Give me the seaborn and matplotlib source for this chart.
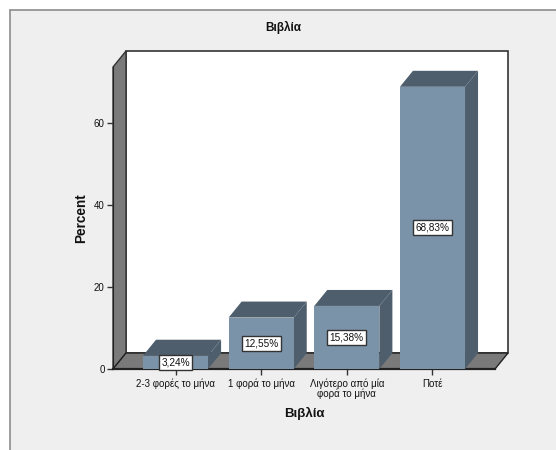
import matplotlib
matplotlib.use('Agg')
import pandas as pd
import seaborn as sns
import matplotlib.pyplot as plt
from matplotlib.patches import Polygon, Rectangle

categories = ['2-3 φορές το μήνα', '1 φορά το μήνα', 'Λιγότερο από μία\nφορά το μήνα', 'Ποτέ']
percents = [3.24, 12.55, 15.38, 68.83]
y_ticks = [0, 20, 40, 60]
title = 'Βιβλία'

W, H = 556, 450
BAR = '#7b93a9'
DARK = '#4e5e6c'
WALL = '#7a7a7a'
PANEL = '#efefef'
# depth of the fake 3d box, in data units
DX, DY = 0.152, 3.9
XMIN, XMAX, YMAX = -0.73, 3.73, 73.66


def fx(px):
    return px / W


def fy(px):
    return 1 - px / H


sns.set_style('white')
plt.rcParams['font.family'] = ['Liberation Sans', 'DejaVu Sans']

fig = plt.figure(figsize=(W / 100, H / 100), dpi=100, facecolor='white')
# panel runs off the right and bottom edges of the image
fig.patches.append(Rectangle((fx(10), -0.1), 1.1, fy(10) + 0.1, transform=fig.transFigure,
                             facecolor=PANEL, edgecolor='#8c8c8c', linewidth=1.2, zorder=-1))
ax = fig.add_axes([fx(113), fy(369), fx(495 - 113), fy(67) - fy(369)])
ax.patch.set_alpha(0)

df = pd.DataFrame({'cat': categories, 'pct': percents})
sns.barplot(data=df, x='cat', y='pct', color=BAR, saturation=1, width=0.76, ax=ax, zorder=5, linewidth=0)
ax.set_xlim(XMIN, XMAX)
ax.set_ylim(0, YMAX)

# top and side faces of each bar
for bar in list(ax.patches):
    x0, x1, top = bar.get_x(), bar.get_x() + bar.get_width(), bar.get_height()
    ax.add_patch(Polygon([(x0, top), (x1, top), (x1 + DX, top + DY), (x0 + DX, top + DY)],
                         facecolor=DARK, edgecolor='none', clip_on=False, zorder=4))
    ax.add_patch(Polygon([(x1, 0), (x1, top), (x1 + DX, top + DY), (x1 + DX, DY)],
                         facecolor=DARK, edgecolor='none', clip_on=False, zorder=4))

# back wall, left wall, floor
ax.add_patch(Polygon([(XMIN + DX, DY), (XMIN + DX, YMAX + DY), (XMAX + DX, YMAX + DY), (XMAX + DX, DY)],
                     facecolor='white', edgecolor='#333333', linewidth=1.2, clip_on=False, zorder=1))
ax.add_patch(Polygon([(XMIN, 0), (XMIN, YMAX), (XMIN + DX, YMAX + DY), (XMIN + DX, DY)],
                     facecolor=WALL, edgecolor='#333333', linewidth=1, clip_on=False, zorder=2))
ax.add_patch(Polygon([(XMIN, 0), (XMAX, 0), (XMAX + DX, DY), (XMIN + DX, DY)],
                     facecolor=WALL, edgecolor='#222222', linewidth=1, clip_on=False, zorder=2))

for i, v in enumerate(percents):
    ax.text(i, v / 2, f'{v:.2f}%'.replace('.', ','), ha='center', va='center', fontsize=7.2,
            color='#111111', zorder=7,
            bbox=dict(boxstyle='square,pad=0.25', facecolor='white', edgecolor='#333333', linewidth=1))

for side in ['top', 'right']:
    ax.spines[side].set_visible(False)
ax.spines['left'].set_color('#222222')
ax.spines['bottom'].set_color('#222222')
ax.spines['bottom'].set_linewidth(1.6)
ax.spines['bottom'].set_zorder(3)
ax.set_yticks(y_ticks)
ax.tick_params(axis='both', left=True, bottom=True, length=4.5, width=1, color='#333333',
               labelsize=7.05, pad=1.5, labelcolor='#111111')
ax.tick_params(axis='x', pad=2.5)
ax.set_xlabel('')
ax.set_ylabel('')
for lab in ax.get_xticklabels():
    lab.set_linespacing(0.95)

fig.text(fx(283), fy(27), title, ha='center', va='center', fontsize=8.5, fontweight='bold', color='#111111')
fig.text(fx(304), fy(413), title, ha='center', va='center', fontsize=9.5, fontweight='bold', color='#111111')
fig.text(fx(81), fy(218), 'Percent', ha='center', va='center', rotation=90, fontsize=9.8,
         fontweight='bold', color='#111111')

fig.savefig('out.png', dpi=100)
